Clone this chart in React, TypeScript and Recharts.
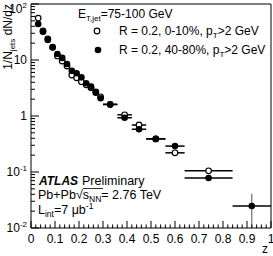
import { ScatterChart, Scatter, XAxis, YAxis, ErrorBar, ReferenceArea } from 'recharts';

const zCenters = [0.03, 0.05, 0.07, 0.09, 0.11, 0.13, 0.15, 0.17, 0.19, 0.21, 0.23, 0.25, 0.27, 0.29, 0.33, 0.39, 0.45, 0.52, 0.6, 0.74, 0.92];
const zHalfWidths = [0.01, 0.01, 0.01, 0.01, 0.01, 0.01, 0.01, 0.01, 0.01, 0.01, 0.01, 0.01, 0.01, 0.01, 0.03, 0.03, 0.03, 0.04, 0.04, 0.1, 0.08];

// 0-10% centrality (open circles); last bin not shown
const centralValues = [56, 33, 23.7, 17, 11.8, 9.6, 7.8, 5.4, 4.8, 4.1, 3.6, 3.2, 2.7, 2.2, 1.6, 1.05, 0.69, 0.39, 0.22, 0.105, null];
// 40-80% centrality (filled circles)
const peripheralValues = [44, 32, 22.8, 16.7, 12.8, 10.9, 8.5, 6.4, 5.8, 4.9, 3.84, 3.34, 2.6, 2.07, 1.62, 0.93, 0.58, 0.39, 0.29, 0.078, 0.0247];
const peripheralYErrLow = [0, 0, 0, 0, 0, 0, 0, 0, 0, 0, 0, 0, 0, 0, 0, 0, 0, 0, 0, 0, 0.0147];
const peripheralYErrHigh = [0, 0, 0, 0, 0, 0, 0, 0, 0, 0, 0, 0, 0, 0, 0, 0, 0, 0, 0, 0, 0.0163];

const xMajorTicks = [0, 0.1, 0.2, 0.3, 0.4, 0.5, 0.6, 0.7, 0.8, 0.9, 1];
const xTickLabels = ['0', '0.1', '0.2', '0.3', '0.4', '0.5', '0.6', '0.7', '0.8', '0.9', '1'];
const yMajorTicks = [0.01, 0.1, 1, 10, 100];
const yTickBases = ['10', '10', '1', '10', '10'];
const yTickExps = ['-2', '-1', '', '', '2'];

const xMinorTicks: number[] = [];
for (let i = 0; i <= 50; i++) xMinorTicks.push(Math.round(i * 2) / 100);
const yMinorTicks: number[] = [];
[0.01, 0.1, 1, 10].forEach((d) => {
  for (let k = 2; k <= 9; k++) yMinorTicks.push(+(k * d).toPrecision(3));
});

const centralData = zCenters
  .map((z, i) => ({ z, v: centralValues[i], xErr: zHalfWidths[i] }))
  .filter((p) => p.v !== null);
const peripheralData = zCenters.map((z, i) => ({
  z,
  v: peripheralValues[i],
  xErr: zHalfWidths[i],
  yErr: [peripheralYErrLow[i], peripheralYErrHigh[i]],
}));

const FONT = '"Liberation Sans", Arial, Helvetica, sans-serif';
const Y_MARGIN = 3;
const X_MARGIN = 3;

const isMajor = (list: number[], v: number) => list.findIndex((m) => Math.abs(m - v) <= Math.abs(m) * 1e-6 + 1e-9);

const YTick = (props: any) => {
  const { x, y, payload } = props;
  const ax = x + Y_MARGIN;
  const idx = isMajor(yMajorTicks, payload.value);
  // keep the top label inside the picture, like the original
  const ty = Math.max(y + 4, 13);
  return (
    <g>
      <line x1={ax} x2={ax + (idx >= 0 ? 8 : 4)} y1={y} y2={y} stroke="#000" strokeWidth={1} />
      {idx >= 0 && (
        <text x={x - 1} y={ty} textAnchor="end" fontSize={12} fontFamily={FONT} fill="#000">
          {yTickBases[idx]}
          {yTickExps[idx] && (
            <tspan dy={-5} fontSize={8}>
              {yTickExps[idx]}
            </tspan>
          )}
        </text>
      )}
    </g>
  );
};

const XTick = (props: any) => {
  const { x, y, payload } = props;
  const ay = y - X_MARGIN;
  const idx = isMajor(xMajorTicks, payload.value);
  return (
    <g>
      <line x1={x} x2={x} y1={ay} y2={ay - (idx >= 0 ? 7 : 3.5)} stroke="#000" strokeWidth={1} />
      {idx >= 0 && (
        <text x={x} y={ay + 15} textAnchor="middle" fontSize={12} fontFamily={FONT} fill="#000">
          {xTickLabels[idx]}
        </text>
      )}
    </g>
  );
};

const OpenDot = (props: any) => <circle cx={props.cx} cy={props.cy} r={2.8} fill="#fff" stroke="#000" strokeWidth={1.2} />;
const FilledDot = (props: any) => <circle cx={props.cx} cy={props.cy} r={3.3} fill="#000" />;

export default function App() {
  return (
    <div style={{ position: 'relative', width: 273, height: 256, background: '#fff' }}>
      <style>{'body{margin:0}'}</style>
      <ScatterChart width={273} height={256} margin={{ top: 4, right: 2, bottom: 0, left: 0 }}>
        <XAxis
          type="number"
          dataKey="z"
          domain={[0, 1]}
          ticks={xMinorTicks}
          interval={0}
          tick={<XTick />}
          tickSize={0}
          tickMargin={X_MARGIN}
          tickLine={false}
          axisLine={false}
          height={28}
          allowDataOverflow
        />
        <YAxis
          type="number"
          dataKey="v"
          scale="log"
          domain={[0.01, 100]}
          ticks={[...yMajorTicks, ...yMinorTicks].sort((a, b) => a - b)}
          interval={0}
          tick={<YTick />}
          tickSize={0}
          tickMargin={Y_MARGIN}
          tickLine={false}
          axisLine={false}
          width={31}
          allowDataOverflow
        />
        <ReferenceArea x1={0} x2={1} y1={0.01} y2={100} fill="none" stroke="#000" strokeWidth={1} ifOverflow="visible" />
        <Scatter data={centralData} shape={<OpenDot />} isAnimationActive={false}>
          <ErrorBar dataKey="xErr" direction="x" width={0} stroke="#000" strokeWidth={1.5} />
        </Scatter>
        <Scatter data={peripheralData} shape={<FilledDot />} isAnimationActive={false}>
          <ErrorBar dataKey="xErr" direction="x" width={0} stroke="#000" strokeWidth={1.5} />
          <ErrorBar dataKey="yErr" direction="y" width={0} stroke="#555" strokeWidth={1} />
        </Scatter>
      </ScatterChart>
      <svg width={273} height={256} style={{ position: 'absolute', left: 0, top: 0, pointerEvents: 'none' }} fontFamily={FONT} fill="#000">
        <text transform="rotate(-90)" x={-4} y={12} textAnchor="end" fontSize={12}>
          1/N
          <tspan dy={3} fontSize={8}>jets</tspan>
          <tspan dy={-3}> dN/dz</tspan>
        </text>
        <text x={268} y={253} textAnchor="end" fontSize={12}>z</text>
        <text x={78} y={18} fontSize={12}>
          E<tspan dy={3} fontSize={8}>T,jet</tspan>
          <tspan dy={-3}>=75-100 GeV</tspan>
        </text>
        <circle cx={97} cy={31} r={2.8} fill="#fff" stroke="#000" strokeWidth={1.2} />
        <text x={119} y={35} fontSize={12}>
          R = 0.2, 0-10%, p<tspan dy={3} fontSize={8}>T</tspan>
          <tspan dy={-3}>&gt;2 GeV</tspan>
        </text>
        <circle cx={98} cy={50} r={3.3} fill="#000" />
        <text x={119} y={54} fontSize={12}>
          R = 0.2, 40-80%, p<tspan dy={3} fontSize={8}>T</tspan>
          <tspan dy={-3}>&gt;2 GeV</tspan>
        </text>
        <text x={39} y={185} fontSize={12} fontWeight="bold" fontStyle="italic">ATLAS</text>
        <text x={82} y={185} fontSize={12.5}>Preliminary</text>
        <text x={38} y={199} fontSize={12.5}>
          Pb+Pb√s<tspan dy={3} fontSize={8.5}>NN</tspan>
          <tspan dy={-3}>= 2.76 TeV</tspan>
        </text>
        <line x1={83} x2={103} y1={188.5} y2={188.5} stroke="#000" strokeWidth={0.8} />
        <text x={38} y={214} fontSize={12.5}>
          L<tspan dy={3} fontSize={8.5}>int</tspan>
          <tspan dy={-3}>=7 μb</tspan>
          <tspan dy={-5} fontSize={8.5}>-1</tspan>
        </text>
      </svg>
    </div>
  );
}
